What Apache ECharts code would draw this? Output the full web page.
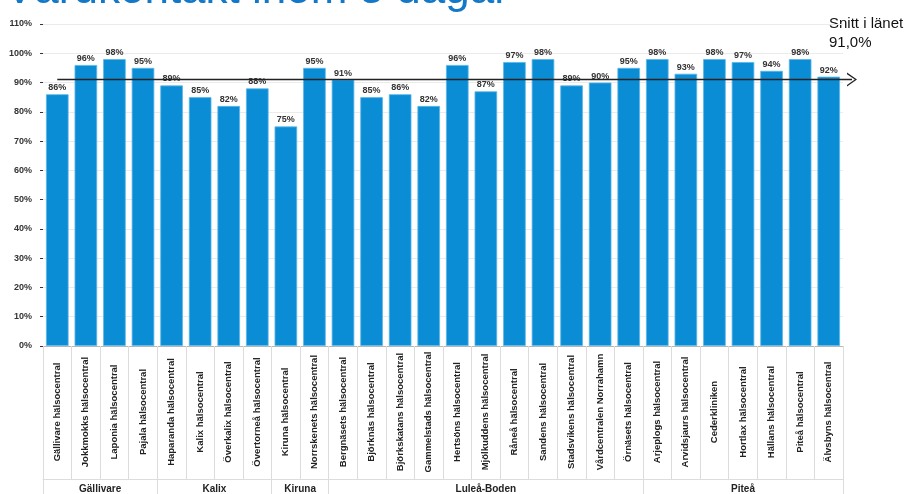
<!DOCTYPE html>
<html>
<head>
<meta charset="utf-8">
<script src="https://cdn.jsdelivr.net/npm/echarts@6/dist/echarts.min.js"></script>
<style>
html,body{margin:0;padding:0;background:#fff;}
#c{width:907px;height:494px;}
</style>
</head>
<body>
<div id="c"></div>
<script>
const titleText = 'Vårdkontakt inom 5 dagar';
const categories = [
  'Gällivare hälsocentral','Jokkmokks hälsocentral','Laponia hälsocentral','Pajala hälsocentral',
  'Haparanda hälsocentral','Kalix hälsocentral','Överkalix hälsocentral','Övertorneå hälsocentral',
  'Kiruna hälsocentral','Norrskenets hälsocentral',
  'Bergnäsets hälsocentral','Björknäs hälsocentral','Björkskatans hälsocentral','Gammelstads hälsocentral',
  'Hertsöns hälsocentral','Mjölkuddens hälsocentral','Råneå hälsocentral','Sandens hälsocentral',
  'Stadsvikens hälsocentral','Vårdcentralen Norrahamn','Örnäsets hälsocentral',
  'Arjeplogs hälsocentral','Arvidsjaurs hälsocentral','Cederkliniken','Hortlax hälsocentral',
  'Hällans hälsocentral','Piteå hälsocentral','Älvsbyns hälsocentral'
];
const values = [86,96,98,95, 89,85,82,88, 75,95, 91,85,86,82,96,87,97,98,89,90,95, 98,93,98,97,94,98,92];
const groupNames = ['Gällivare','Kalix','Kiruna','Luleå-Boden','Piteå'];
const groupSizes = [4,4,2,11,7];
const average = 91.0;
const averageLabel = 'Snitt i länet';

// group boundaries and centres along the category count
const groupBounds = [0];
groupSizes.forEach(s => groupBounds.push(groupBounds[groupBounds.length-1] + s));
const groupCenters = groupNames.map((n,i) => (groupBounds[i] + groupBounds[i+1]) / 2);

const chart = echarts.init(document.getElementById('c'), null, {renderer:'canvas'});
const lab = "'Liberation Sans', Arial, sans-serif";
const option = {
  animation: false,
  backgroundColor: '#fff',
  grid: {left: 43, right: 64, top: 24, bottom: 144, containLabel: false},
  xAxis: [{
    type: 'category',
    data: categories,
    axisLine: {show: true, lineStyle: {color: '#b8b8b8', width: 1}},
    axisTick: {show: true, length: 133, interval: 0, lineStyle: {color: '#dcdcdc'}},
    axisLabel: {
      interval: 0, rotate: 90, margin: 66, align: 'center', verticalAlign: 'middle',
      fontSize: 9.5, fontWeight: 'bold', color: '#222', fontFamily: lab
    },
    splitLine: {show: false}
  },{
    type: 'value',
    min: 0, max: categories.length,
    position: 'bottom',
    offset: 133,
    axisLine: {show: true, lineStyle: {color: '#dcdcdc'}},
    axisTick: {show: true, length: 20, customValues: groupBounds, lineStyle: {color: '#dcdcdc'}},
    axisLabel: {
      show: true, customValues: groupCenters, margin: 5,
      formatter: v => { const i = groupCenters.indexOf(v); return i >= 0 ? groupNames[i] : ''; },
      fontSize: 10, fontWeight: 'bold', color: '#222', fontFamily: lab
    },
    splitLine: {show: false}
  }],
  yAxis: {
    type: 'value',
    min: 0, max: 110, interval: 10,
    offset: 3,
    axisLine: {show: false},
    axisTick: {show: true, length: 3, lineStyle: {color: '#333'}},
    axisLabel: {margin: 8, formatter: '{value}%', fontSize: 9, fontWeight: 'bold', color: '#333', fontFamily: lab},
    splitLine: {show: true, lineStyle: {color: '#ebebeb', width: 1}}
  },
  series: [{
    type: 'bar',
    xAxisIndex: 0,
    data: values,
    barCategoryGap: '21%',
    itemStyle: {color: '#0b8dd6', borderColor: '#5ab6e8', borderWidth: 0.8},
    label: {
      show: true, position: 'top', distance: 2, formatter: '{c}%',
      fontSize: 9, fontWeight: 'bold', color: '#333', fontFamily: lab
    },
    emphasis: {disabled: true},
    markLine: {
      silent: true,
      symbol: ['none', 'path://M0,12 L6,0 L12,12 L10.6,12 L6,2.6 L1.4,12 Z'],
      symbolSize: [14, 10],
      label: {show: false},
      lineStyle: {color: '#222', width: 1.3, type: 'solid'},
      emphasis: {disabled: true},
      data: [[
        {coord: [0, average]},
        {coord: [categories.length - 1, average], x: 852}
      ]]
    }
  }],
  graphic: [
    {type: 'text', left: 5, top: -31, silent: true,
     style: {text: titleText, fontSize: 44, fontFamily: lab, fill: '#1478c8'}},
    {type: 'text', x: 829, y: 14, silent: true,
     style: {text: averageLabel + '\n' + average.toFixed(1).replace('.', ',') + '%',
             fontSize: 15, lineHeight: 19, fontFamily: "'Liberation Sans Narrow', 'Arial Narrow', 'Liberation Sans', Arial, sans-serif", fill: '#111'}}
  ]
};
chart.setOption(option);
</script>
</body>
</html>
